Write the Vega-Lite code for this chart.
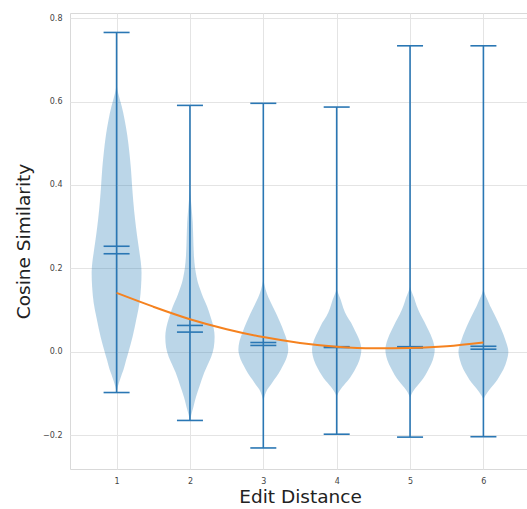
{
  "$schema": "https://vega.github.io/schema/vega-lite/v6.json",
  "width": 460,
  "height": 456,
  "autosize": {"type": "none"},
  "padding": {"left": 70, "top": 13, "right": 0, "bottom": 40},
  "background": "white",
  "config": {
    "font": "DejaVu Sans",
    "view": {"stroke": "#d9d9d9", "strokeWidth": 1},
    "axis": {
      "grid": true,
      "gridColor": "#e4e4e4",
      "gridWidth": 1,
      "domain": false,
      "ticks": false,
      "labelFontSize": 8,
      "labelColor": "#444444",
      "titleFontSize": 18.5,
      "titleFontWeight": "normal",
      "titleColor": "#222222"
    }
  },
  "datasets": {
    "violins": [
      {"ed": 1, "v": -0.098, "w": 0.0},
      {"ed": 1, "v": -0.085, "w": 0.015},
      {"ed": 1, "v": -0.07, "w": 0.041},
      {"ed": 1, "v": -0.055, "w": 0.07},
      {"ed": 1, "v": -0.043, "w": 0.095},
      {"ed": 1, "v": -0.02, "w": 0.13},
      {"ed": 1, "v": 0.0, "w": 0.163},
      {"ed": 1, "v": 0.036, "w": 0.218},
      {"ed": 1, "v": 0.08, "w": 0.272},
      {"ed": 1, "v": 0.118, "w": 0.313},
      {"ed": 1, "v": 0.155, "w": 0.333},
      {"ed": 1, "v": 0.19, "w": 0.34},
      {"ed": 1, "v": 0.215, "w": 0.33},
      {"ed": 1, "v": 0.237, "w": 0.313},
      {"ed": 1, "v": 0.28, "w": 0.278},
      {"ed": 1, "v": 0.317, "w": 0.252},
      {"ed": 1, "v": 0.36, "w": 0.228},
      {"ed": 1, "v": 0.396, "w": 0.212},
      {"ed": 1, "v": 0.44, "w": 0.195},
      {"ed": 1, "v": 0.477, "w": 0.175},
      {"ed": 1, "v": 0.52, "w": 0.145},
      {"ed": 1, "v": 0.556, "w": 0.11},
      {"ed": 1, "v": 0.59, "w": 0.068},
      {"ed": 1, "v": 0.61, "w": 0.037},
      {"ed": 1, "v": 0.628, "w": 0.012},
      {"ed": 1, "v": 0.645, "w": 0.0},

      {"ed": 2, "v": -0.165, "w": 0.0},
      {"ed": 2, "v": -0.15, "w": 0.02},
      {"ed": 2, "v": -0.132, "w": 0.048},
      {"ed": 2, "v": -0.11, "w": 0.08},
      {"ed": 2, "v": -0.091, "w": 0.115},
      {"ed": 2, "v": -0.07, "w": 0.155},
      {"ed": 2, "v": -0.05, "w": 0.195},
      {"ed": 2, "v": -0.03, "w": 0.245},
      {"ed": 2, "v": -0.012, "w": 0.29},
      {"ed": 2, "v": 0.01, "w": 0.325},
      {"ed": 2, "v": 0.036, "w": 0.336},
      {"ed": 2, "v": 0.055, "w": 0.325},
      {"ed": 2, "v": 0.07, "w": 0.305},
      {"ed": 2, "v": 0.09, "w": 0.27},
      {"ed": 2, "v": 0.108, "w": 0.235},
      {"ed": 2, "v": 0.13, "w": 0.18},
      {"ed": 2, "v": 0.149, "w": 0.14},
      {"ed": 2, "v": 0.165, "w": 0.11},
      {"ed": 2, "v": 0.18, "w": 0.09},
      {"ed": 2, "v": 0.2, "w": 0.07},
      {"ed": 2, "v": 0.228, "w": 0.055},
      {"ed": 2, "v": 0.26, "w": 0.047},
      {"ed": 2, "v": 0.309, "w": 0.038},
      {"ed": 2, "v": 0.34, "w": 0.025},
      {"ed": 2, "v": 0.37, "w": 0.01},
      {"ed": 2, "v": 0.39, "w": 0.0},

      {"ed": 3, "v": -0.118, "w": 0.0},
      {"ed": 3, "v": -0.105, "w": 0.02},
      {"ed": 3, "v": -0.091, "w": 0.054},
      {"ed": 3, "v": -0.08, "w": 0.1},
      {"ed": 3, "v": -0.067, "w": 0.15},
      {"ed": 3, "v": -0.052, "w": 0.21},
      {"ed": 3, "v": -0.036, "w": 0.259},
      {"ed": 3, "v": -0.018, "w": 0.31},
      {"ed": 3, "v": 0.005, "w": 0.34},
      {"ed": 3, "v": 0.025, "w": 0.325},
      {"ed": 3, "v": 0.048, "w": 0.28},
      {"ed": 3, "v": 0.07, "w": 0.23},
      {"ed": 3, "v": 0.09, "w": 0.18},
      {"ed": 3, "v": 0.108, "w": 0.13},
      {"ed": 3, "v": 0.13, "w": 0.07},
      {"ed": 3, "v": 0.15, "w": 0.03},
      {"ed": 3, "v": 0.173, "w": 0.0},

      {"ed": 4, "v": -0.108, "w": 0.0},
      {"ed": 4, "v": -0.1, "w": 0.02},
      {"ed": 4, "v": -0.09, "w": 0.054},
      {"ed": 4, "v": -0.08, "w": 0.1},
      {"ed": 4, "v": -0.07, "w": 0.15},
      {"ed": 4, "v": -0.055, "w": 0.21},
      {"ed": 4, "v": -0.04, "w": 0.259},
      {"ed": 4, "v": -0.02, "w": 0.31},
      {"ed": 4, "v": 0.005, "w": 0.336},
      {"ed": 4, "v": 0.03, "w": 0.305},
      {"ed": 4, "v": 0.05, "w": 0.25},
      {"ed": 4, "v": 0.07, "w": 0.195},
      {"ed": 4, "v": 0.085, "w": 0.14},
      {"ed": 4, "v": 0.105, "w": 0.09},
      {"ed": 4, "v": 0.125, "w": 0.054},
      {"ed": 4, "v": 0.14, "w": 0.02},
      {"ed": 4, "v": 0.15, "w": 0.0},

      {"ed": 5, "v": -0.11, "w": 0.0},
      {"ed": 5, "v": -0.102, "w": 0.02},
      {"ed": 5, "v": -0.092, "w": 0.054},
      {"ed": 5, "v": -0.082, "w": 0.1},
      {"ed": 5, "v": -0.071, "w": 0.15},
      {"ed": 5, "v": -0.056, "w": 0.21},
      {"ed": 5, "v": -0.04, "w": 0.259},
      {"ed": 5, "v": -0.02, "w": 0.31},
      {"ed": 5, "v": 0.005, "w": 0.336},
      {"ed": 5, "v": 0.03, "w": 0.305},
      {"ed": 5, "v": 0.052, "w": 0.25},
      {"ed": 5, "v": 0.072, "w": 0.195},
      {"ed": 5, "v": 0.09, "w": 0.14},
      {"ed": 5, "v": 0.11, "w": 0.09},
      {"ed": 5, "v": 0.13, "w": 0.054},
      {"ed": 5, "v": 0.145, "w": 0.02},
      {"ed": 5, "v": 0.156, "w": 0.0},

      {"ed": 6, "v": -0.115, "w": 0.0},
      {"ed": 6, "v": -0.107, "w": 0.02},
      {"ed": 6, "v": -0.098, "w": 0.054},
      {"ed": 6, "v": -0.087, "w": 0.1},
      {"ed": 6, "v": -0.074, "w": 0.163},
      {"ed": 6, "v": -0.06, "w": 0.215},
      {"ed": 6, "v": -0.043, "w": 0.272},
      {"ed": 6, "v": -0.02, "w": 0.32},
      {"ed": 6, "v": 0.0, "w": 0.34},
      {"ed": 6, "v": 0.025, "w": 0.305},
      {"ed": 6, "v": 0.053, "w": 0.245},
      {"ed": 6, "v": 0.075, "w": 0.19},
      {"ed": 6, "v": 0.093, "w": 0.14},
      {"ed": 6, "v": 0.11, "w": 0.09},
      {"ed": 6, "v": 0.125, "w": 0.054},
      {"ed": 6, "v": 0.139, "w": 0.02},
      {"ed": 6, "v": 0.149, "w": 0.0}
    ],
    "stats": [
      {"ed": 1, "min": -0.098, "max": 0.766, "mean": 0.253, "median": 0.235},
      {"ed": 2, "min": -0.165, "max": 0.591, "mean": 0.063, "median": 0.047},
      {"ed": 3, "min": -0.231, "max": 0.596, "mean": 0.022, "median": 0.015},
      {"ed": 4, "min": -0.198, "max": 0.587, "mean": 0.012, "median": 0.01},
      {"ed": 5, "min": -0.205, "max": 0.734, "mean": 0.012, "median": 0.009},
      {"ed": 6, "min": -0.204, "max": 0.734, "mean": 0.013, "median": 0.006}
    ],
    "fit": [
      {"ed": 1.0, "v": 0.141},
      {"ed": 1.5, "v": 0.108},
      {"ed": 2.0, "v": 0.078},
      {"ed": 2.5, "v": 0.054},
      {"ed": 3.0, "v": 0.035},
      {"ed": 3.5, "v": 0.021},
      {"ed": 4.0, "v": 0.012},
      {"ed": 4.5, "v": 0.008},
      {"ed": 5.0, "v": 0.009},
      {"ed": 5.5, "v": 0.013},
      {"ed": 6.0, "v": 0.022}
    ]
  },
  "encoding": {
    "x": {
      "type": "quantitative",
      "scale": {"domain": [0.365, 6.635], "nice": false, "zero": false},
      "axis": {"values": [1, 2, 3, 4, 5, 6], "format": "d", "title": "Edit Distance", "labelPadding": 8, "titlePadding": 2}
    },
    "y": {
      "type": "quantitative",
      "scale": {"domain": [-0.2815, 0.8127], "nice": false, "zero": false},
      "axis": {"values": [-0.2, 0.0, 0.2, 0.4, 0.6, 0.8], "format": ".1f", "title": "Cosine Similarity", "labelPadding": 8, "titlePadding": 9}
    }
  },
  "layer": [
    {
      "data": {"name": "violins"},
      "transform": [
        {"calculate": "datum.ed - datum.w", "as": "lo"},
        {"calculate": "datum.ed + datum.w", "as": "hi"}
      ],
      "mark": {"type": "area", "orient": "horizontal", "interpolate": "monotone", "color": "#1f77b4", "opacity": 0.3},
      "encoding": {
        "x": {"field": "lo"},
        "x2": {"field": "hi"},
        "y": {"field": "v"},
        "detail": {"field": "ed", "type": "nominal"}
      }
    },
    {
      "data": {"name": "stats"},
      "mark": {"type": "rule", "color": "#2a77b4", "strokeWidth": 1.6},
      "encoding": {
        "x": {"field": "ed"},
        "y": {"field": "min"},
        "y2": {"field": "max"}
      }
    },
    {
      "data": {"name": "stats"},
      "transform": [{"fold": ["min", "max", "mean", "median"], "as": ["stat", "val"]}],
      "mark": {"type": "tick", "orient": "horizontal", "color": "#2a77b4", "size": 26, "thickness": 1.6, "opacity": 1},
      "encoding": {
        "x": {"field": "ed"},
        "y": {"field": "val"}
      }
    },
    {
      "data": {"name": "fit"},
      "mark": {"type": "line", "color": "#f5821f", "strokeWidth": 2, "interpolate": "monotone"},
      "encoding": {
        "x": {"field": "ed"},
        "y": {"field": "v"}
      }
    }
  ]
}
